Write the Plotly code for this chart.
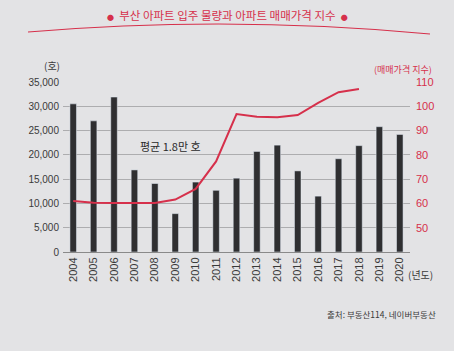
import plotly.graph_objects as go

years = [str(y) for y in range(2004, 2021)]
supply = [30500, 27000, 31900, 16900, 14100, 7900, 14400, 12700, 15200,
          20700, 22000, 16700, 11500, 19200, 21900, 25800, 24200]
price_years = [str(y) for y in range(2004, 2019)]
price_index = [61.0, 60.3, 60.2, 60.2, 60.2, 61.6, 66.0, 77.3, 96.8,
               95.7, 95.5, 96.4, 101.4, 105.8, 107.1]
avg_supply = 18500
left_ticks = [0, 5000, 10000, 15000, 20000, 25000, 30000, 35000]
right_ticks = [50, 60, 70, 80, 90, 100, 110]

W, H = 454, 351
L, R, T, B = 63, 44, 82, 99
PW, PH = W - L - R, H - T - B

def px(x):
    return (x - L) / PW

def py(y):
    return (H - B - y) / PH

num_font = "Liberation Sans Narrow, Arial Narrow, sans-serif"
kr_font = "Noto Sans CJK KR, sans-serif"
red = "#d6304b"

fig = go.Figure()
fig.add_trace(go.Bar(x=years, y=supply, marker_color="#2f2f31",
                     width=0.32, yaxis="y", showlegend=False))
fig.add_trace(go.Scatter(x=price_years, y=price_index, mode="lines",
                         line=dict(color=red, width=2), yaxis="y2",
                         showlegend=False))
fig.add_trace(go.Scatter(x=[-0.5, 16.5], y=[avg_supply, avg_supply], mode="lines",
                         line=dict(color="#d2465a", width=1.1, dash="dash"),
                         yaxis="y", showlegend=False))

fig.update_layout(
    width=W, height=H,
    margin=dict(l=L, r=R, t=T, b=B),
    paper_bgcolor="#e3e3e5", plot_bgcolor="rgba(0,0,0,0)",
    xaxis=dict(type="category", range=[-0.5, 16.5], tickangle=-90,
               tickfont=dict(family=num_font, size=11, color="#3a3a3a"),
               showline=True, linecolor="#8a8a8a", linewidth=1,
               showgrid=False, ticks=""),
    yaxis=dict(range=[0, 35000], tickvals=left_ticks, tickformat=",",
               tickfont=dict(family=num_font, size=10, color="#3a3a3a"),
               showgrid=True, gridcolor="#adadaf", gridwidth=1,
               zeroline=False, showline=False, ticks="", ticklabelstandoff=3),
    yaxis2=dict(range=[40, 110], tickvals=right_ticks, overlaying="y",
                side="right", showgrid=False, zeroline=False,
                tickfont=dict(family=num_font, size=11, color=red), ticks="",
                ticklabelstandoff=5),
    bargap=0.7,
)

dot = "<span style='font-size:7px'>●</span>"
ann = [
    dict(text=f"{dot}  부산 아파트 입주 물량과 아파트 매매가격 지수  {dot}", x=px(227), y=py(15),
         font=dict(family=kr_font, size=11.5, color=red)),
    dict(text="(호)", x=px(52), y=py(66), font=dict(family=kr_font, size=10, color="#3a3a3a")),
    dict(text="(매매가격 지수)", x=px(403), y=py(69), font=dict(family=kr_font, size=9, color=red)),
    dict(text="평균 1.8만 호", x=px(170), y=py(146), font=dict(family=kr_font, size=11, color="#2a2a2a")),
    dict(text="(년도)", x=px(420), y=py(274), font=dict(family=kr_font, size=10, color="#3a3a3a")),
    dict(text="출처: 부동산114, 네이버부동산", x=px(381), y=py(314), font=dict(family=kr_font, size=8.5, color="#3a3a3a")),
]
for a in ann:
    fig.add_annotation(xref="paper", yref="paper", showarrow=False,
                       xanchor="center", yanchor="middle", **a)

path = f"M {px(28)},{py(32)} Q {px(230)},{py(15)} {px(430)},{py(34)}"
fig.add_shape(type="path", xref="paper", yref="paper", path=path,
              line=dict(color="#d6304b", width=1.1))

fig.write_html("out.html")
